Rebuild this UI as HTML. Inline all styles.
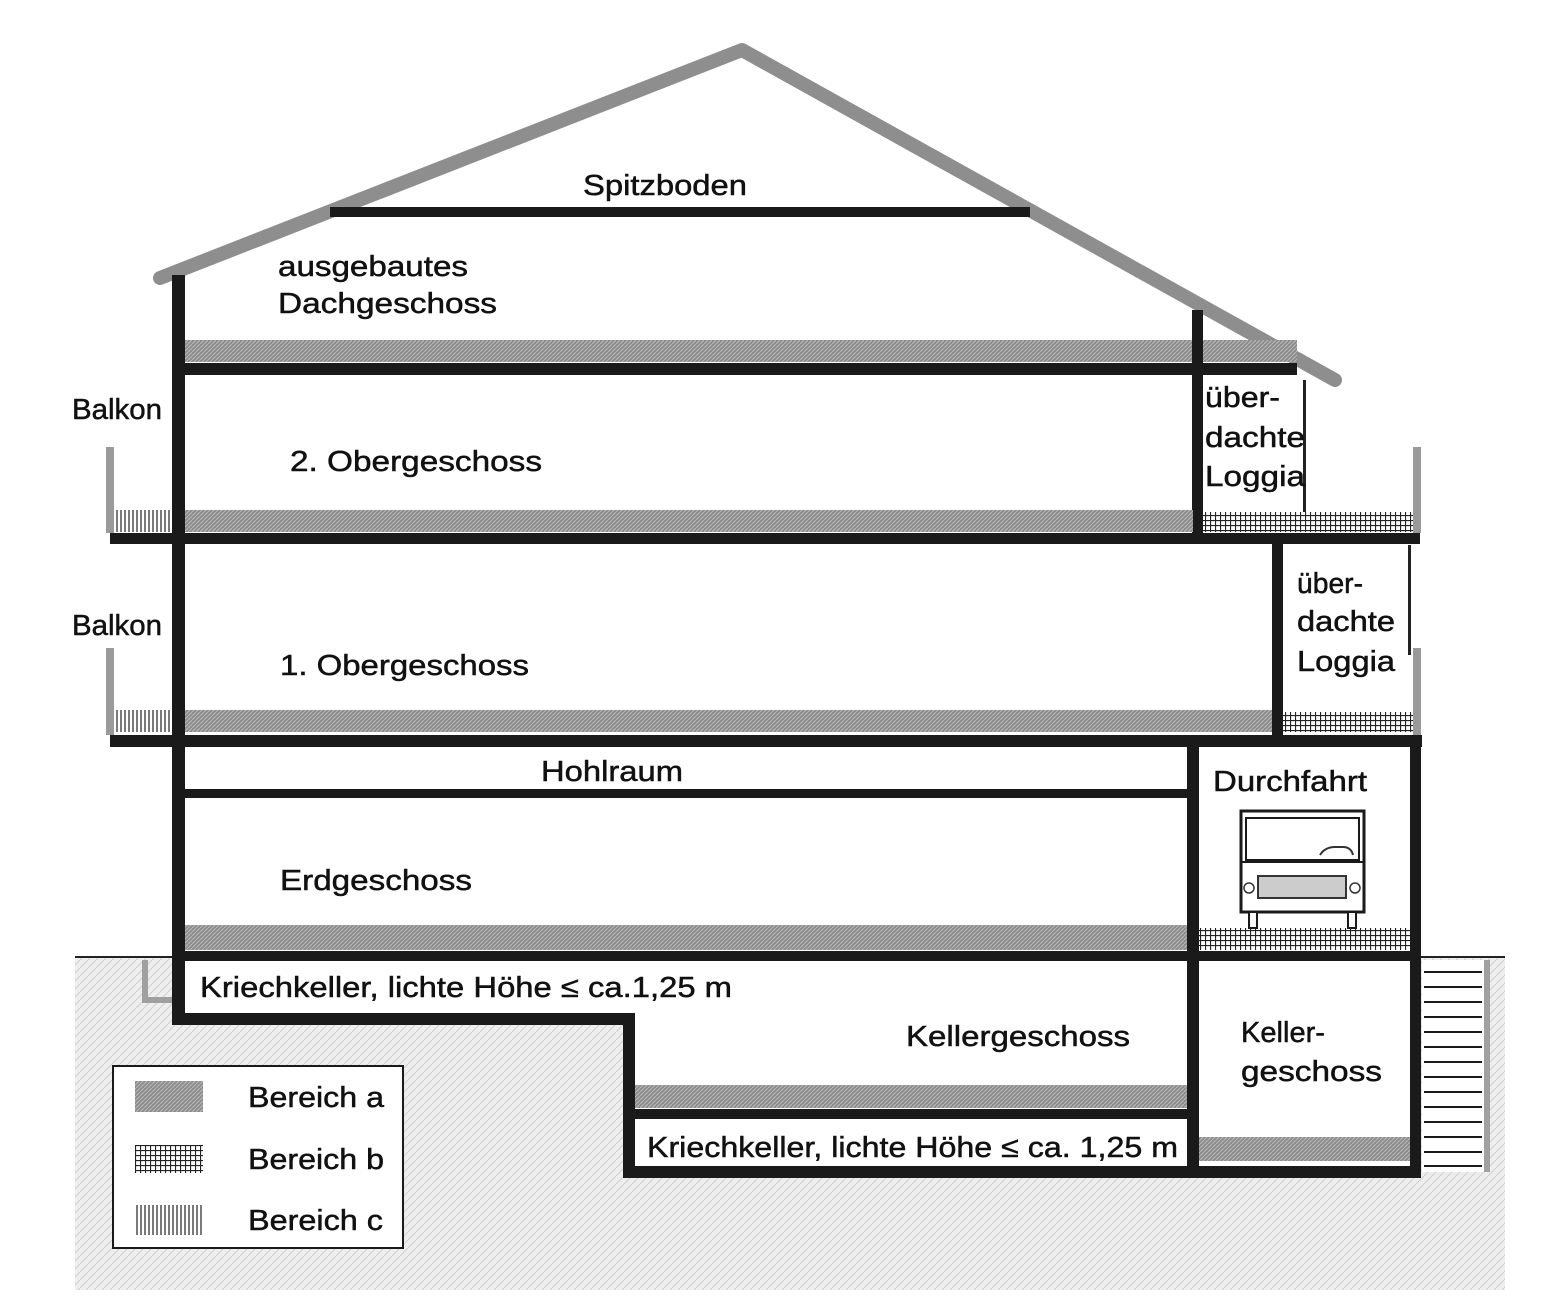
<!DOCTYPE html>
<html><head><meta charset="utf-8"><style>
html,body{margin:0;padding:0;background:#fff;}
svg{display:block;}
text{font-family:"Liberation Sans",Arial,sans-serif;fill:#111;stroke:#111;stroke-width:0.5;}
</style></head><body>
<svg width="1556" height="1313" viewBox="0 0 1556 1313" xmlns="http://www.w3.org/2000/svg">
<defs>
<pattern id="ground" width="8" height="8" patternUnits="userSpaceOnUse">
<rect width="8" height="8" fill="#eeeeee"/>
<path d="M0 8 L8 0" stroke="#cfcfcf" stroke-width="1"/>
</pattern>
<pattern id="pa" width="4" height="4" patternUnits="userSpaceOnUse">
<rect width="4" height="4" fill="#8e8e8e"/>
<path d="M0 4 L4 0" stroke="#b8b8b8" stroke-width="1"/>
</pattern>
<pattern id="pb" width="5" height="5" patternUnits="userSpaceOnUse">
<rect width="5" height="5" fill="#fff"/>
<path d="M0 0.5 H5 M0.5 0 V5" stroke="#222" stroke-width="1.2"/>
</pattern>
<pattern id="pc" width="4" height="4" patternUnits="userSpaceOnUse">
<rect width="4" height="4" fill="#fff"/>
<path d="M1 0 V4" stroke="#333" stroke-width="1.3"/>
</pattern>
</defs>

<rect x="75" y="957" width="1430" height="333" fill="url(#ground)"/>
<line x1="75" y1="957" x2="1505" y2="957" stroke="#222" stroke-width="2"/>

<rect x="180" y="960" width="1240" height="58" fill="#fff"/>
<rect x="630" y="1018" width="790" height="155" fill="#fff"/>
<rect x="1422" y="960" width="62" height="212" fill="#fff"/>

<polyline points="160,278 742,50 1335,380" fill="none" stroke="#8e8e8e" stroke-width="14" stroke-linecap="round" stroke-linejoin="round"/>
<rect x="330" y="207" width="700" height="10" fill="#1a1a1a"/>

<rect x="172" y="275" width="13" height="748" fill="#1a1a1a"/>

<rect x="185" y="340" width="1112" height="22" fill="url(#pa)"/>
<rect x="172" y="363" width="1125" height="12" fill="#1a1a1a"/>
<rect x="1192" y="310" width="11" height="225" fill="#1a1a1a"/>
<rect x="1303" y="380" width="3" height="135" fill="#222"/>

<rect x="185" y="510" width="1008" height="22" fill="url(#pa)"/>
<rect x="115" y="510" width="57" height="22" fill="url(#pc)"/>
<rect x="1203" y="512" width="210" height="20" fill="url(#pb)"/>
<rect x="110" y="533" width="1310" height="11" fill="#1a1a1a"/>
<rect x="106" y="447" width="8" height="86" fill="#9a9a9a"/>
<rect x="1413" y="447" width="8" height="86" fill="#9a9a9a"/>

<rect x="1272" y="544" width="11" height="195" fill="#1a1a1a"/>
<rect x="1408" y="545" width="3" height="110" fill="#222"/>
<rect x="185" y="710" width="1087" height="22" fill="url(#pa)"/>
<rect x="115" y="710" width="57" height="22" fill="url(#pc)"/>
<rect x="1283" y="712" width="130" height="20" fill="url(#pb)"/>
<rect x="110" y="735" width="1312" height="12" fill="#1a1a1a"/>
<rect x="106" y="648" width="8" height="87" fill="#9a9a9a"/>
<rect x="1413" y="648" width="8" height="87" fill="#9a9a9a"/>

<rect x="185" y="789" width="1003" height="9" fill="#1a1a1a"/>

<rect x="1187" y="740" width="12" height="435" fill="#1a1a1a"/>
<rect x="1410" y="740" width="11" height="435" fill="#1a1a1a"/>

<rect x="185" y="925" width="1002" height="25" fill="url(#pa)"/>
<rect x="1199" y="928" width="211" height="22" fill="url(#pb)"/>
<rect x="172" y="951" width="1249" height="10" fill="#1a1a1a"/>

<rect x="1241" y="811" width="123" height="101" fill="#fff" stroke="#1a1a1a" stroke-width="3"/>
<rect x="1246" y="818" width="113" height="42" fill="#fff" stroke="#1a1a1a" stroke-width="2"/>
<line x1="1241" y1="862" x2="1364" y2="862" stroke="#1a1a1a" stroke-width="2"/>
<path d="M1320 855 q5 -8 15 -8 h8 q8 0 10 8" fill="none" stroke="#333" stroke-width="2"/>
<rect x="1258" y="876" width="88" height="22" fill="#ccc" stroke="#333" stroke-width="2"/>
<circle cx="1249" cy="888" r="5" fill="#fff" stroke="#333" stroke-width="1.5"/>
<circle cx="1355" cy="888" r="5" fill="#fff" stroke="#333" stroke-width="1.5"/>
<rect x="1249" y="912" width="8" height="16" fill="#fff" stroke="#1a1a1a" stroke-width="2"/>
<rect x="1348" y="912" width="8" height="16" fill="#fff" stroke="#1a1a1a" stroke-width="2"/>

<rect x="172" y="1013" width="463" height="12" fill="#1a1a1a"/>
<rect x="623" y="1013" width="12" height="165" fill="#1a1a1a"/>
<polyline points="145,960 145,1000 172,1000" fill="none" stroke="#a0a0a0" stroke-width="6"/>

<rect x="635" y="1085" width="552" height="23" fill="url(#pa)"/>
<rect x="635" y="1109" width="552" height="10" fill="#1a1a1a"/>
<rect x="1199" y="1137" width="211" height="24" fill="url(#pa)"/>
<rect x="623" y="1166" width="798" height="12" fill="#1a1a1a"/>

<g stroke="#1a1a1a" stroke-width="2">
<line x1="1424" y1="972" x2="1482" y2="972"/><line x1="1424" y1="987" x2="1482" y2="987"/>
<line x1="1424" y1="1002" x2="1482" y2="1002"/><line x1="1424" y1="1017" x2="1482" y2="1017"/>
<line x1="1424" y1="1032" x2="1482" y2="1032"/><line x1="1424" y1="1047" x2="1482" y2="1047"/>
<line x1="1424" y1="1062" x2="1482" y2="1062"/><line x1="1424" y1="1077" x2="1482" y2="1077"/>
<line x1="1424" y1="1092" x2="1482" y2="1092"/><line x1="1424" y1="1107" x2="1482" y2="1107"/>
<line x1="1424" y1="1122" x2="1482" y2="1122"/><line x1="1424" y1="1137" x2="1482" y2="1137"/>
<line x1="1424" y1="1152" x2="1482" y2="1152"/><line x1="1424" y1="1166" x2="1482" y2="1166"/>
</g>
<rect x="1484" y="960" width="6" height="212" fill="#a0a0a0"/>

<rect x="113" y="1066" width="290" height="182" fill="#fff" stroke="#1a1a1a" stroke-width="2"/>
<rect x="135" y="1081" width="68" height="31" fill="url(#pa)"/>
<rect x="135" y="1145" width="68" height="28" fill="url(#pb)"/>
<rect x="135" y="1205" width="68" height="30" fill="url(#pc)"/>

<g font-size="29">
<text x="583" y="195" textLength="164" lengthAdjust="spacingAndGlyphs">Spitzboden</text>
<text x="278" y="276" textLength="190" lengthAdjust="spacingAndGlyphs">ausgebautes</text>
<text x="278" y="313" textLength="219" lengthAdjust="spacingAndGlyphs">Dachgeschoss</text>
<text x="72" y="419" textLength="90" lengthAdjust="spacingAndGlyphs">Balkon</text>
<text x="290" y="471" textLength="252" lengthAdjust="spacingAndGlyphs">2. Obergeschoss</text>
<text x="1205" y="407" textLength="75" lengthAdjust="spacingAndGlyphs">über-</text>
<text x="1205" y="447" textLength="100" lengthAdjust="spacingAndGlyphs">dachte</text>
<text x="1205" y="486" textLength="100" lengthAdjust="spacingAndGlyphs">Loggia</text>
<text x="72" y="635" textLength="90" lengthAdjust="spacingAndGlyphs">Balkon</text>
<text x="280" y="675" textLength="249" lengthAdjust="spacingAndGlyphs">1. Obergeschoss</text>
<text x="1297" y="593" textLength="66" lengthAdjust="spacingAndGlyphs">über-</text>
<text x="1297" y="631" textLength="98" lengthAdjust="spacingAndGlyphs">dachte</text>
<text x="1297" y="671" textLength="98" lengthAdjust="spacingAndGlyphs">Loggia</text>
<text x="541" y="781" textLength="142" lengthAdjust="spacingAndGlyphs">Hohlraum</text>
<text x="1213" y="791" textLength="154" lengthAdjust="spacingAndGlyphs">Durchfahrt</text>
<text x="280" y="890" textLength="192" lengthAdjust="spacingAndGlyphs">Erdgeschoss</text>
<text x="200" y="997" textLength="532" lengthAdjust="spacingAndGlyphs">Kriechkeller, lichte Höhe ≤ ca.1,25 m</text>
<text x="906" y="1046" textLength="224" lengthAdjust="spacingAndGlyphs">Kellergeschoss</text>
<text x="1241" y="1042" textLength="84" lengthAdjust="spacingAndGlyphs">Keller-</text>
<text x="1241" y="1081" textLength="141" lengthAdjust="spacingAndGlyphs">geschoss</text>
<text x="647" y="1157" textLength="531" lengthAdjust="spacingAndGlyphs">Kriechkeller, lichte Höhe ≤ ca. 1,25 m</text>
<text x="248" y="1107" textLength="136" lengthAdjust="spacingAndGlyphs">Bereich a</text>
<text x="248" y="1169" textLength="136" lengthAdjust="spacingAndGlyphs">Bereich b</text>
<text x="248" y="1230" textLength="135" lengthAdjust="spacingAndGlyphs">Bereich c</text>
</g>
</svg>
</body></html>
